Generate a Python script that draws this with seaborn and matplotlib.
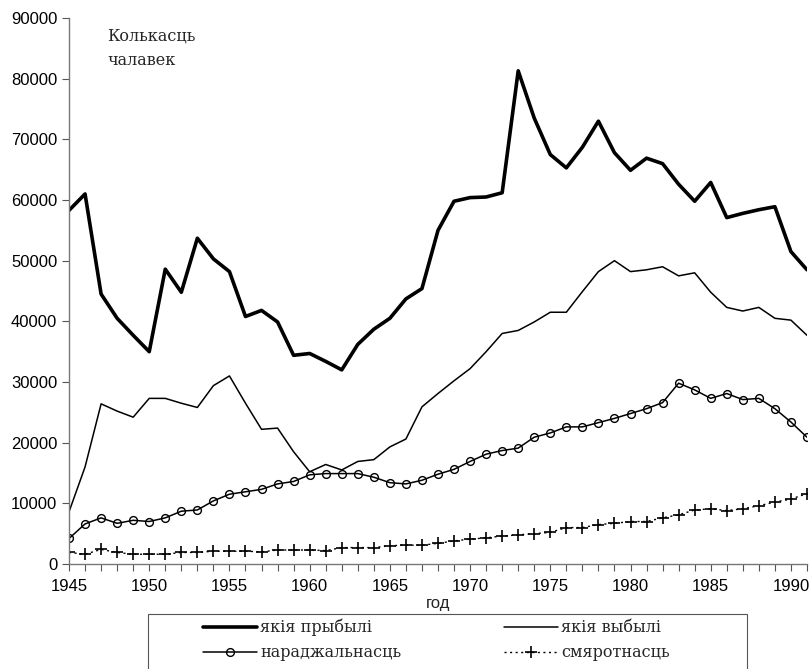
import matplotlib
matplotlib.use('Agg')
import matplotlib.pyplot as plt
from matplotlib.patches import Rectangle
from matplotlib.ticker import MultipleLocator
import seaborn as sns

years = list(range(1945, 1992))

# якія прыбылі (arrived)
arrived = [
    58300, 61000, 44500, 40500, 37700, 35000, 48600, 44800, 53700, 50300,
    48200, 40800, 41800, 39900, 34400, 34700, 33400, 32000, 36200, 38700,
    40500, 43700, 45400, 55000, 59800, 60400, 60500, 61200, 81300, 73500,
    67500, 65300, 68700, 73000, 67800, 64900, 66900, 66000, 62600, 59800,
    62900, 57100, 57800, 58400, 58900, 51500, 48500,
]
# якія выбылі (departed)
departed = [
    8600, 16000, 26400, 25200, 24200, 27300, 27300, 26500, 25800, 29400,
    31000, 26500, 22200, 22400, 18500, 15200, 16400, 15500, 16900, 17200,
    19300, 20600, 25900, 28100, 30200, 32200, 35000, 38000, 38500, 39900,
    41500, 41500, 44900, 48200, 50000, 48200, 48500, 49000, 47500, 48000,
    44800, 42300, 41700, 42300, 40500, 40200, 37700,
]
# нараджальнасць (births)
births = [
    4200, 6600, 7600, 6700, 7200, 7000, 7600, 8700, 8900, 10400,
    11500, 11900, 12300, 13200, 13600, 14700, 14900, 14900, 14900, 14300,
    13400, 13200, 13800, 14800, 15600, 16900, 18100, 18700, 19100, 20900,
    21600, 22600, 22600, 23300, 24000, 24800, 25600, 26600, 29800, 28700,
    27300, 28100, 27100, 27300, 25600, 23400, 20900,
]
# смяротнасць (deaths)
deaths = [
    1900, 1600, 2400, 1900, 1600, 1600, 1600, 1900, 1900, 2100,
    2100, 2100, 2000, 2300, 2300, 2300, 2200, 2700, 2700, 2700,
    3000, 3100, 3100, 3400, 3800, 4100, 4300, 4600, 4800, 5000,
    5200, 6000, 6000, 6500, 6700, 7000, 7000, 7600, 8100, 8900,
    9100, 8800, 9100, 9600, 10200, 10700, 11600,
]

labels = ['якія прыбылі', 'якія выбылі', 'нараджальнасць', 'смяротнасць']

sns.set_theme(style='ticks')
plt.rcParams['font.family'] = ['Liberation Sans', 'DejaVu Sans']

W, H = 812, 669
fig = plt.figure(figsize=(W / 100, H / 100), dpi=100)
ax = fig.add_axes([0.085, 0.157, 0.9088, 0.816])

sns.lineplot(x=years, y=arrived, ax=ax, color='black', linewidth=2.6, label=labels[0])
sns.lineplot(x=years, y=departed, ax=ax, color='black', linewidth=1.1, label=labels[1])
sns.lineplot(x=years, y=births, ax=ax, color='black', linewidth=1.1, marker='o',
             markersize=5.6, markerfacecolor='none', markeredgecolor='black',
             markeredgewidth=1.0, label=labels[2])
sns.lineplot(x=years, y=deaths, ax=ax, color='black', linewidth=1.0, linestyle=(0, (1.5, 2.5)),
             marker='+', markersize=8, markeredgewidth=1.2, markeredgecolor='black',
             label=labels[3])

ax.set_xlim(1945, 1991)
ax.set_ylim(0, 90000)
ax.xaxis.set_major_locator(MultipleLocator(5))
ax.xaxis.set_minor_locator(MultipleLocator(1))
ax.yaxis.set_major_locator(MultipleLocator(10000))
ax.tick_params(axis='both', which='both', direction='out', length=5, width=0.8,
               colors='#555555', labelcolor='black', labelsize=12)
ax.tick_params(axis='x', pad=6)
for side in ['top', 'right']:
    ax.spines[side].set_visible(False)
for side in ['left', 'bottom']:
    ax.spines[side].set_color('#777777')
    ax.spines[side].set_linewidth(1.0)

ax.set_xlabel('год', fontsize=12, labelpad=1)
ax.set_ylabel('')

ax.text(1947.4, 88500, 'Колькасць\nчалавек', family=['DejaVu Serif'], fontsize=11.5,
        va='top', ha='left', linespacing=1.6)

# legend frame drawn separately (box runs off the bottom edge)
fig.patches.append(Rectangle((148 / W, -0.02), (747 - 148) / W, (669 - 614) / H + 0.02,
                             transform=fig.transFigure, fill=False,
                             edgecolor='#555555', linewidth=0.8))

handles, hlabels = ax.get_legend_handles_labels()
ax.get_legend().remove()
order = [0, 2, 1, 3]
leg = fig.legend([handles[i] for i in order], [hlabels[i] for i in order],
                 ncol=2, loc='upper left', bbox_to_anchor=(203 / W, 1 - 619 / H),
                 frameon=False, prop={'family': 'DejaVu Serif', 'size': 11.5},
                 handlelength=3.4, handletextpad=0.2, columnspacing=6.4,
                 borderpad=0, labelspacing=0.5, borderaxespad=0)

fig.savefig('out.png', dpi=100)
